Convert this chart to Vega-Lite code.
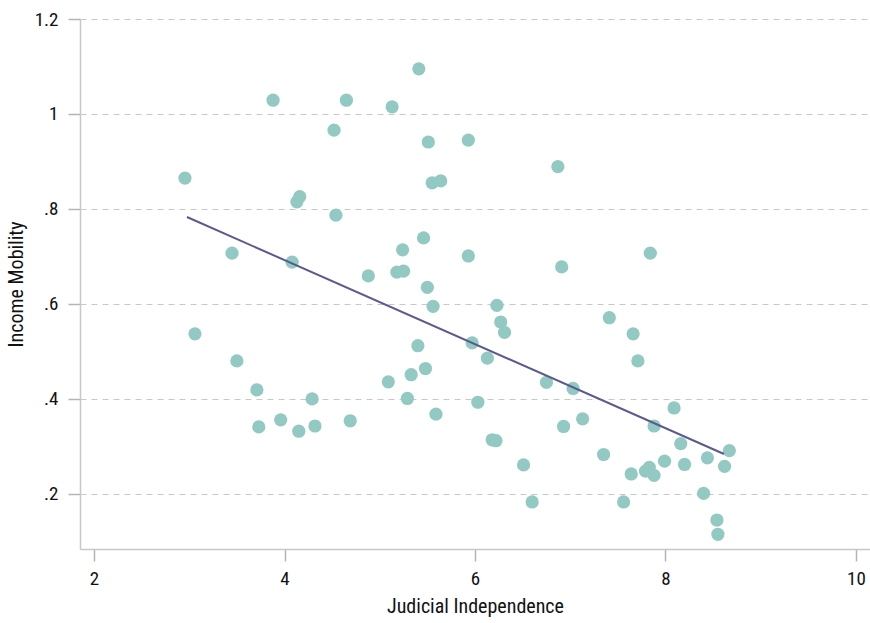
{
  "$schema": "https://vega.github.io/schema/vega-lite/v6.json",
  "width": 790,
  "height": 530,
  "autosize": {"type": "none"},
  "padding": {"left": 80, "top": 19, "right": 0, "bottom": 74},
  "background": "white",
  "config": {
    "view": {"stroke": null},
    "font": "'Roboto Condensed', 'DejaVu Sans Condensed', Roboto, sans-serif",
    "axis": {
      "labelFont": "'Roboto Condensed', 'DejaVu Sans Condensed', Roboto, sans-serif",
      "titleFont": "'Roboto Condensed', 'DejaVu Sans Condensed', Roboto, sans-serif",
      "labelFontSize": 19,
      "titleFontSize": 20,
      "labelColor": "#111111",
      "titleColor": "#111111",
      "titleFontWeight": "normal",
      "domainColor": "#c8c8c8",
      "domainWidth": 1.5,
      "tickColor": "#b4b4b4",
      "tickSize": 12,
      "tickWidth": 1.5
    }
  },
  "datasets": {
    "pts": [
      {"ji": 2.955, "im": 0.865}, {"ji": 3.06, "im": 0.537}, {"ji": 3.449, "im": 0.707}, {"ji": 3.50, "im": 0.48},
      {"ji": 3.71, "im": 0.419}, {"ji": 3.73, "im": 0.341}, {"ji": 3.88, "im": 1.029}, {"ji": 3.96, "im": 0.356},
      {"ji": 4.08, "im": 0.688}, {"ji": 4.13, "im": 0.815}, {"ji": 4.16, "im": 0.826}, {"ji": 4.15, "im": 0.332},
      {"ji": 4.29, "im": 0.40}, {"ji": 4.32, "im": 0.343}, {"ji": 4.52, "im": 0.966}, {"ji": 4.54, "im": 0.787},
      {"ji": 4.65, "im": 1.029}, {"ji": 4.69, "im": 0.354}, {"ji": 4.88, "im": 0.659}, {"ji": 5.09, "im": 0.436},
      {"ji": 5.13, "im": 1.015}, {"ji": 5.18, "im": 0.667}, {"ji": 5.25, "im": 0.669}, {"ji": 5.24, "im": 0.714},
      {"ji": 5.29, "im": 0.401}, {"ji": 5.33, "im": 0.451}, {"ji": 5.40, "im": 0.512}, {"ji": 5.41, "im": 1.095},
      {"ji": 5.46, "im": 0.739}, {"ji": 5.48, "im": 0.464}, {"ji": 5.50, "im": 0.635}, {"ji": 5.51, "im": 0.941},
      {"ji": 5.55, "im": 0.855}, {"ji": 5.56, "im": 0.595}, {"ji": 5.59, "im": 0.368}, {"ji": 5.64, "im": 0.859},
      {"ji": 5.93, "im": 0.945}, {"ji": 5.93, "im": 0.701}, {"ji": 5.97, "im": 0.518}, {"ji": 6.03, "im": 0.393},
      {"ji": 6.13, "im": 0.486}, {"ji": 6.18, "im": 0.314}, {"ji": 6.22, "im": 0.312}, {"ji": 6.23, "im": 0.597},
      {"ji": 6.27, "im": 0.562}, {"ji": 6.31, "im": 0.540}, {"ji": 6.51, "im": 0.261}, {"ji": 6.60, "im": 0.183},
      {"ji": 6.75, "im": 0.435}, {"ji": 6.87, "im": 0.889}, {"ji": 6.91, "im": 0.678}, {"ji": 6.93, "im": 0.342},
      {"ji": 7.03, "im": 0.422}, {"ji": 7.13, "im": 0.358}, {"ji": 7.35, "im": 0.283}, {"ji": 7.41, "im": 0.571},
      {"ji": 7.56, "im": 0.183}, {"ji": 7.64, "im": 0.242}, {"ji": 7.66, "im": 0.537}, {"ji": 7.71, "im": 0.48},
      {"ji": 7.79, "im": 0.248}, {"ji": 7.83, "im": 0.256}, {"ji": 7.84, "im": 0.707}, {"ji": 7.88, "im": 0.239},
      {"ji": 7.88, "im": 0.343}, {"ji": 7.99, "im": 0.269}, {"ji": 8.09, "im": 0.381}, {"ji": 8.16, "im": 0.306},
      {"ji": 8.20, "im": 0.262}, {"ji": 8.40, "im": 0.201}, {"ji": 8.44, "im": 0.276}, {"ji": 8.54, "im": 0.145},
      {"ji": 8.55, "im": 0.115}, {"ji": 8.62, "im": 0.258}, {"ji": 8.67, "im": 0.291}
    ],
    "fit": [
      {"ji": 2.976, "im": 0.783},
      {"ji": 8.614, "im": 0.284}
    ]
  },
  "encoding": {
    "x": {
      "field": "ji", "type": "quantitative",
      "scale": {"domain": [1.853, 10.147], "nice": false, "zero": false},
      "axis": {"values": [2, 4, 6, 8, 10], "grid": false, "title": "Judicial Independence", "labelPadding": 8, "titlePadding": 8}
    },
    "y": {
      "field": "im", "type": "quantitative",
      "scale": {"domain": [0.084, 1.2], "nice": false, "zero": false},
      "axis": {
        "values": [0.2, 0.4, 0.6, 0.8, 1, 1.2],
        "grid": true, "gridColor": "#c8c8c8", "gridDash": [6, 5], "gridWidth": 1.2,
        "labelExpr": "datum.value < 1 ? '.' + round(datum.value * 10) : format(datum.value, '~g')",
        "title": "Income Mobility", "labelPadding": 10, "titlePadding": 8
      }
    }
  },
  "layer": [
    {
      "data": {"name": "pts"},
      "mark": {"type": "circle", "size": 175, "color": "#93c9c3", "opacity": 1}
    },
    {
      "data": {"name": "fit"},
      "mark": {"type": "line", "color": "#5b5a8e", "strokeWidth": 2}
    }
  ]
}
